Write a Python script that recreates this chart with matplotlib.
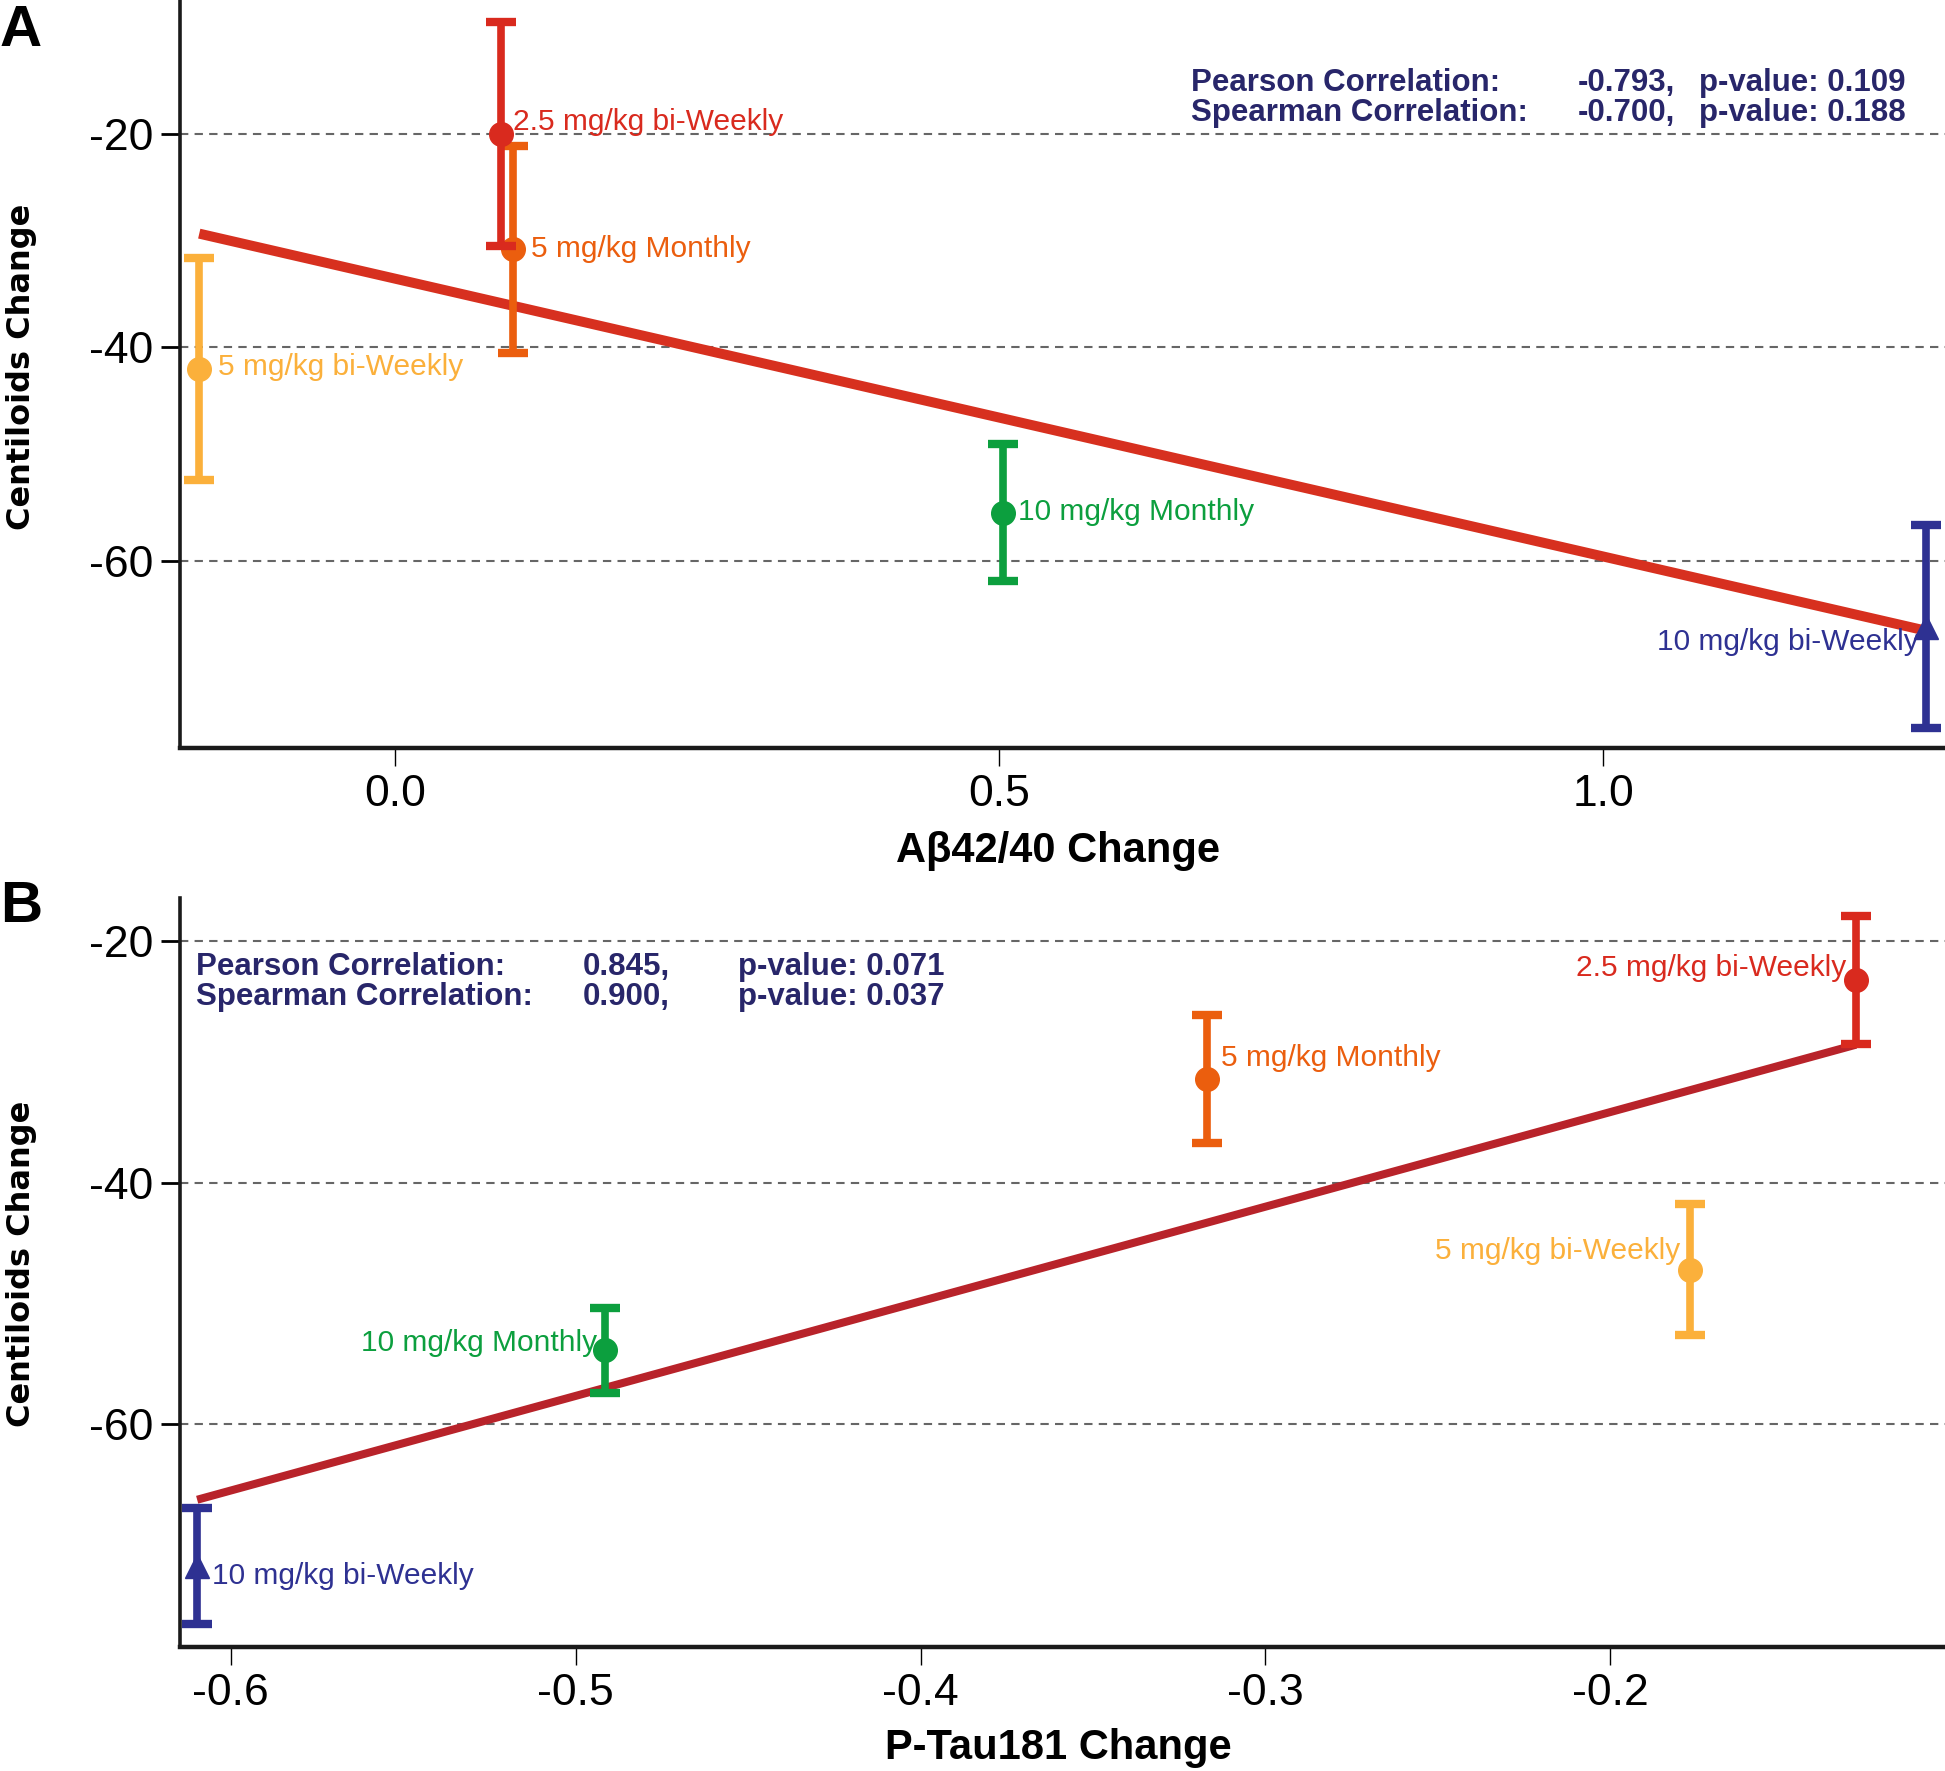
import matplotlib
matplotlib.use("Agg")
import matplotlib.pyplot as plt
import numpy as np

plt.rcParams['font.family'] = ['Liberation Sans', 'DejaVu Sans']

# dose groups (same order in both panels)
groups = ["5 mg/kg bi-Weekly", "5 mg/kg Monthly", "2.5 mg/kg bi-Weekly",
          "10 mg/kg Monthly", "10 mg/kg bi-Weekly"]
group_colors = ["#fbb03b", "#eb5e0e", "#d92a1e", "#0c9f3e", "#2e3192"]
group_markers = ["o", "o", "o", "o", "^"]

# panel A: Abeta42/40 change vs centiloids change
abeta_change = [-0.162, 0.0975, 0.088, 0.503, 1.267]
centiloid_a = [-42.0, -30.8, -20.0, -55.5, -66.2]
centiloid_a_err = [10.4, 9.7, 10.5, 6.4, 9.5]

# panel B: P-Tau181 change vs centiloids change
ptau_change = [-0.177, -0.3169, -0.1288, -0.4914, -0.6097]
centiloid_b = [-47.2, -31.4, -23.2, -53.9, -71.8]
centiloid_b_err = [5.4, 5.3, 5.3, 3.5, 4.8]

stats_a = [["Pearson Correlation:", "-0.793,", "p-value: 0.109"],
           ["Spearman Correlation:", "-0.700,", "p-value: 0.188"]]
stats_b = [["Pearson Correlation:", "0.845,", "p-value: 0.071"],
           ["Spearman Correlation:", "0.900,", "p-value: 0.037"]]

yticks = [-20, -40, -60]
xticks_a = [0.0, 0.5, 1.0]
xticks_b = [-0.6, -0.5, -0.4, -0.3, -0.2]

# label placement (offset in points, horizontal alignment)
label_pos_a = [((13.5, 1.5), "left"), ((13, 0.5), "left"), ((8.5, 9), "left"),
               ((11, 0.5), "left"), ((-5, -11), "right")]
label_pos_b = [((-7, 13), "right"), ((10, 15), "left"), ((-7, 9), "right"),
               ((-6, 5), "right"), ((10.5, -7), "left")]

W, H = 1945, 1771
fig = plt.figure(figsize=(W / 100, H / 100), dpi=100)
ax_a = fig.add_axes([0.0925, 0.5776, 0.9075, 0.4224])
ax_b = fig.add_axes([0.0925, 0.070, 0.9075, 0.4229])

navy = "#28266a"


def style_axes(ax, xticks, xlim, ylim, fmt):
    ax.set_xlim(*xlim)
    ax.set_ylim(*ylim)
    for s in ["top", "right"]:
        ax.spines[s].set_visible(False)
    ax.spines["left"].set_linewidth(2.6)
    ax.spines["bottom"].set_linewidth(3.2)
    ax.spines["left"].set_color("#1a1a1a")
    ax.spines["bottom"].set_color("#1a1a1a")
    ax.set_yticks(yticks)
    ax.set_yticklabels([str(t) for t in yticks])
    ax.set_xticks(xticks)
    ax.set_xticklabels([fmt.format(t) for t in xticks])
    ax.tick_params(axis="y", length=14, width=2, pad=5, labelsize=32)
    ax.tick_params(axis="x", length=13, width=1, pad=6, labelsize=32)
    for t in yticks:
        ax.axhline(t, color="#666666", lw=1.5, ls=(0, (4, 3)), zorder=1)


def draw_panel(ax, xs, ys, errs, line_color, line_w, label_pos):
    slope, icpt = np.polyfit(xs, ys, 1)
    xl = np.array([min(xs), max(xs)])
    ax.plot(xl, slope * xl + icpt, color=line_color, lw=line_w,
            solid_capstyle="butt", zorder=2)
    for i in range(len(groups)):
        ax.errorbar(xs[i], ys[i], yerr=errs[i], fmt=group_markers[i],
                    color=group_colors[i], ms=17, elinewidth=5.5,
                    capsize=11, capthick=6, zorder=3 + 0.1 * i)
        (dx, dy), ha = label_pos[i]
        ax.annotate(groups[i], (xs[i], ys[i]), xytext=(dx, dy),
                    textcoords="offset points", ha=ha, va="center",
                    color=group_colors[i], fontsize=21.5, zorder=4)


style_axes(ax_a, xticks_a, (-0.178, 1.283), (-77.6, -7.4), "{:.1f}")
style_axes(ax_b, xticks_b, (-0.6147, -0.103), (-78.5, -16.4), "{:.1f}")
draw_panel(ax_a, abeta_change, centiloid_a, centiloid_a_err, "#d7301f", 7.2, label_pos_a)
draw_panel(ax_b, ptau_change, centiloid_b, centiloid_b_err, "#b8232a", 5.8, label_pos_b)


def stats_text(rows, x_cols, y_rows):
    for row, y in zip(rows, y_rows):
        for txt, x in zip(row, x_cols):
            fig.text(x / W, 1 - y / H, txt, ha="left", va="center",
                     color=navy, fontsize=22.5, fontweight="bold")


stats_text(stats_a, [1191, 1578, 1699], [83, 113])
stats_text(stats_b, [196, 583, 738], [967, 997])

fig.text(0.544, 0.5195, "A\u03b242/40 Change", ha="center", va="center",
         fontsize=30, fontweight="bold")
fig.text(0.544, 0.013, "P-Tau181 Change", ha="center", va="center",
         fontsize=30, fontweight="bold")
for yc in [0.7928, 0.2863]:
    fig.text(0.0108, yc, "Centiloids Change", rotation=90, ha="center",
             va="center", fontsize=23, fontweight="bold", family="DejaVu Sans")

fig.text(0.0, 1 - 4 / H, "A", ha="left", va="top", fontsize=42, fontweight="bold")
fig.text(0.0, 1 - 880 / H, "B", ha="left", va="top", fontsize=42, fontweight="bold")

fig.savefig("out.png", dpi=100)
